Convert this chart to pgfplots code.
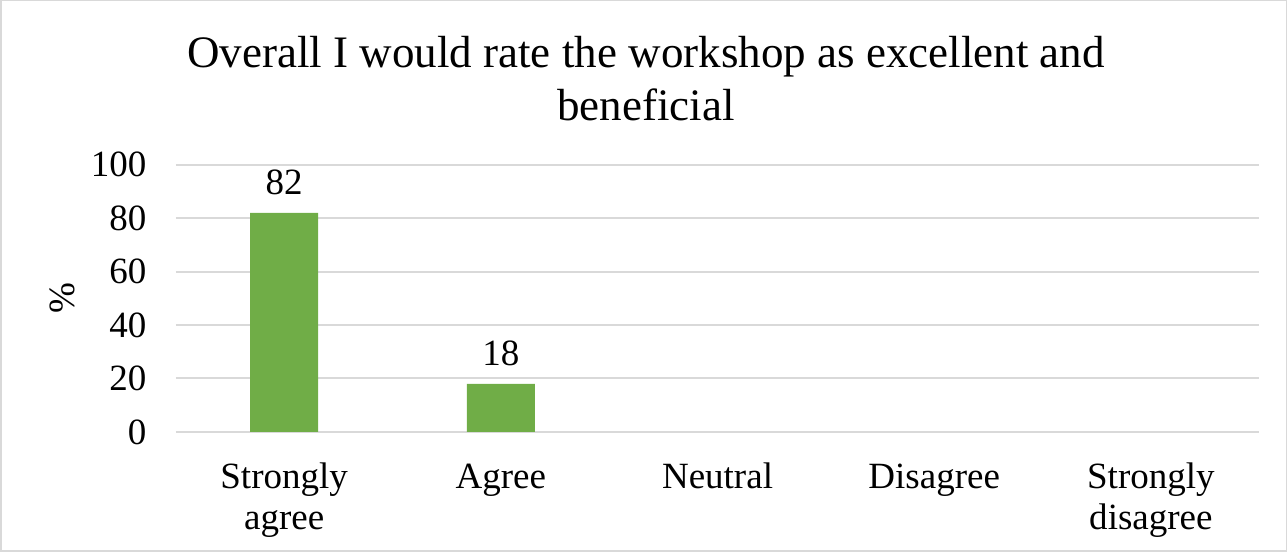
\documentclass[border=0pt]{standalone}
\usepackage{fontspec}
\setmainfont{Liberation Serif}
\usepackage{pgfplots}
\pgfplotsset{compat=1.18}
\definecolor{bargreen}{HTML}{70AD47}
\definecolor{gridgray}{HTML}{D9D9D9}
\begin{document}
\begin{tikzpicture}[x=1pt,y=1pt]
% chart frame
\draw[gridgray, line width=1.5pt] (1,1) rectangle (1286,551);
% title
\node[align=center, anchor=north, inner sep=0pt, font=\fontsize{45}{53}\selectfont]
  at (646,516) {Overall I would rate the workshop as excellent and\\beneficial};
\begin{axis}[
  at={(176pt,120pt)}, anchor=south west,
  scale only axis, width=1083pt, height=267pt,
  xmin=-0.5, xmax=4.5, ymin=0, ymax=100,
  ytick={0,20,...,100},
  xtick={0,1,2,3,4},
  xticklabels={{\strut Strongly\\agree},\strut Agree,\strut Neutral,\strut Disagree,{\strut Strongly\\disagree}},
  xticklabel style={align=center, font=\fontsize{37}{41}\selectfont, anchor=north, yshift=-24pt},
  yticklabel style={font=\fontsize{37}{41}\selectfont, xshift=-26pt},
  /pgf/number format/assume math mode=true,
  ylabel={\%},
  ylabel style={font=\fontsize{37}{41}\selectfont, at={(axis description cs:-0.105,0.5)}, anchor=center},
  ymajorgrids, grid style={gridgray, line width=2pt},
  axis x line*=bottom,
  axis y line*=left,
  y axis line style={draw=none},
  x axis line style={gridgray, line width=2pt, -},
  major tick length=0pt,
  ybar, bar width=68pt,
  nodes near coords,
  every node near coord/.append style={font=\fontsize{37}{41}\selectfont, black, yshift=14pt},
  clip=false,
]
\addplot[fill=bargreen, draw=none] coordinates {(0,82) (1,18)};
\end{axis}
\end{tikzpicture}
\end{document}
